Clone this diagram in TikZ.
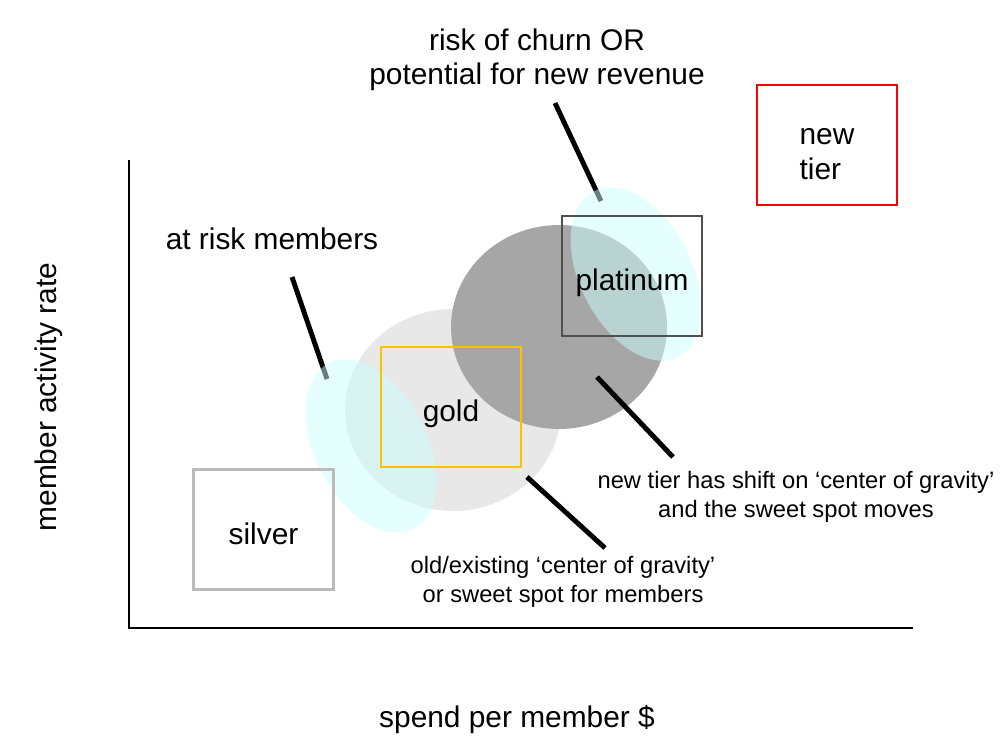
\documentclass[tikz,border=0pt]{standalone}
\usepackage{fontspec}
\setmainfont{Liberation Sans}
\usetikzlibrary{positioning}
\definecolor{tierred}{RGB}{255,0,0}
\definecolor{tierplat}{RGB}{80,80,80}
\definecolor{tiergold}{RGB}{255,192,0}
\definecolor{tiersilver}{RGB}{187,187,187}
\definecolor{spotold}{RGB}{232,232,232}
\definecolor{spotnew}{RGB}{166,166,166}
\definecolor{riskcyan}{RGB}{204,255,255}
\tikzset{
  tierbox/.style={draw,line width=1.2pt,minimum width=2.8cm,minimum height=2.4cm,
    text height=16.8pt,text depth=0pt,font=\fontsize{17}{19.4}\selectfont},
  bigtext/.style={font=\fontsize{17}{19.4}\selectfont,align=center},
  smalltext/.style={font=\fontsize{13.5}{16.5}\selectfont,align=center},
  leader/.style={line width=2.8pt},
  riskspot/.style={fill=riskcyan,fill opacity=0.5},
}

\begin{document}
\begin{tikzpicture}[x=0.02cm,y=-0.02cm]
  \useasboundingbox (0,0) rectangle (1006,756);
  % sweet spots
  \fill[spotold] (453,410) ellipse [x radius=2.16cm,y radius=2.02cm];
  \fill[spotnew] (559,327) ellipse [x radius=2.16cm,y radius=2.04cm];
  % leader lines
  \coordinate (atriskA) at (292,277);  \coordinate (atriskB) at (327,379);
  \coordinate (churnA) at (555,103);   \coordinate (churnB) at (601,201);
  \coordinate (shiftA) at (673,457);   \coordinate (shiftB) at (597,377);
  \coordinate (oldspotA) at (605,548); \coordinate (oldspotB) at (527,477);
  \foreach \l in {atrisk,churn,shift,oldspot}
    \draw[leader] (\l A) -- (\l B);
  % risk areas
  \fill[riskspot,rotate around={27:(371,446)}] (371,446) ellipse [x radius=1.12cm,y radius=1.86cm];
  \fill[riskspot,rotate around={27:(636,274)}] (636,274) ellipse [x radius=1.12cm,y radius=1.86cm];
  % tiers
  \node[tierbox,draw=tiersilver,line width=1.7pt] (silver) at (263.5,529.5) {silver};
  \node[tierbox,draw=tiergold] (gold) at (451,407) {gold};
  \node[tierbox,draw=tierplat] (platinum) at (632,276) {platinum};
  \node[tierbox,draw=tierred,align=left,text height=39.5pt] (newtier) at (827,145) {new\\[0.5pt]tier};
  % axes
  \coordinate (yend) at (129,160);
  \coordinate (origin) at (129,628);
  \coordinate (xend) at (913,628);
  \draw[line width=1.7pt] (yend) -- (origin) -- (xend);
  \node[bigtext] (xlabel) at (517,720) {spend per member \$};
  \node[bigtext,rotate=90] (ylabel) at (49,397) {member activity rate};
  % notes
  \node[bigtext] (atrisk) at (272,239) {at risk members};
  \node[bigtext] (churn) at (537,60) {risk of churn OR\\potential for new revenue};
  \node[smalltext] (shift) at (796,497) {new tier has shift on `center of gravity'\\and the sweet spot moves};
  \node[smalltext] (oldspot) at (563,582) {old/existing `center of gravity'\\ or sweet spot for members};
\end{tikzpicture}
\end{document}
